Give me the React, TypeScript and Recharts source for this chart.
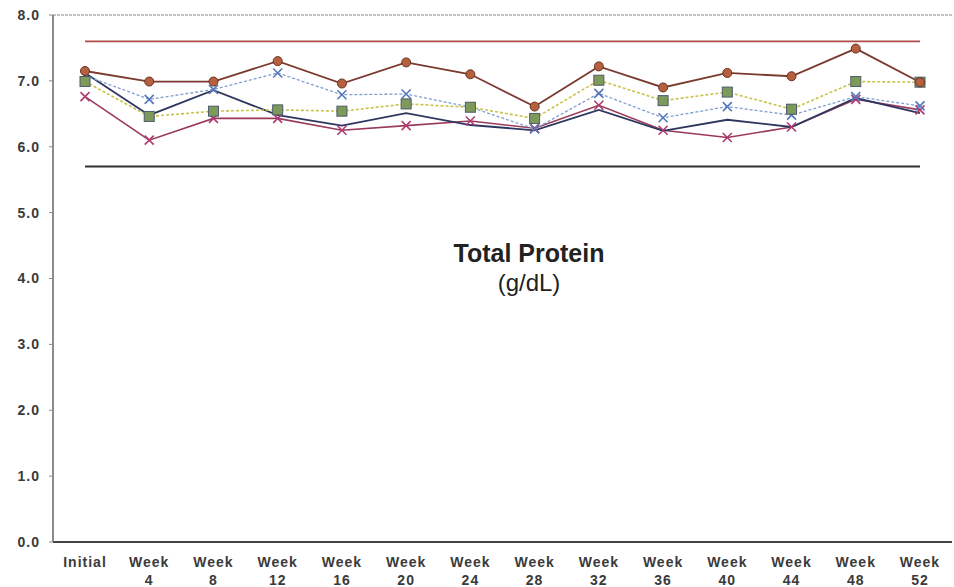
import React from 'react';
import { LineChart, Line, XAxis, YAxis, ReferenceLine } from 'recharts';

const categories = ['Initial', 'Week 4', 'Week 8', 'Week 12', 'Week 16', 'Week 20', 'Week 24', 'Week 28', 'Week 32', 'Week 36', 'Week 40', 'Week 44', 'Week 48', 'Week 52'];
const brownSeries = [7.15, 6.99, 6.99, 7.30, 6.96, 7.28, 7.10, 6.61, 7.22, 6.90, 7.12, 7.07, 7.49, 6.98];
const navySeries = [7.12, 6.48, 6.86, 6.48, 6.32, 6.51, 6.33, 6.25, 6.56, 6.24, 6.41, 6.30, 6.74, 6.51];
const greenSeries = [6.99, 6.46, 6.54, 6.56, 6.54, 6.65, 6.60, 6.43, 7.01, 6.70, 6.83, 6.57, 6.99, 6.98];
const blueSeries = [7.08, 6.72, 6.87, 7.12, 6.79, 6.80, 6.60, 6.27, 6.81, 6.44, 6.61, 6.48, 6.76, 6.62];
const pinkSeries = [6.76, 6.10, 6.43, 6.43, 6.25, 6.32, 6.39, 6.28, 6.63, 6.25, 6.14, 6.30, 6.72, 6.56];
const upperRef = 7.6;
const lowerRef = 5.7;
const yTicks = [0, 1, 2, 3, 4, 5, 6, 7, 8];

const data = categories.map((c, i) => ({
  cat: c,
  brown: brownSeries[i],
  navy: navySeries[i],
  green: greenSeries[i],
  blue: blueSeries[i],
  pink: pinkSeries[i],
  upper: upperRef,
  lower: lowerRef,
}));

const FONT = '"Liberation Sans", Arial, sans-serif';

const XTick = (props: any) => {
  const { x, y, payload } = props;
  const v: string = payload.value;
  const parts = v.split(' ');
  return (
    <g>
      <text x={x} y={y} dy={21} textAnchor="middle" fontFamily={FONT} fontSize={14} fontWeight={700} fill="#3a3a3a" letterSpacing={1}>
        {parts[0]}
      </text>
      {parts[1] && (
        <text x={x} y={y} dy={39} textAnchor="middle" fontFamily={FONT} fontSize={14} fontWeight={700} fill="#3a3a3a" letterSpacing={1}>
          {parts[1]}
        </text>
      )}
    </g>
  );
};

const XMark = (props: any) => {
  const { cx, cy, stroke } = props;
  if (cx == null || cy == null) return null;
  const s = 4.5;
  return (
    <path d={`M${cx - s},${cy - s}L${cx + s},${cy + s}M${cx - s},${cy + s}L${cx + s},${cy - s}`} stroke={stroke} strokeWidth={1.6} fill="none" />
  );
};

const SquareMark = (props: any) => {
  const { cx, cy } = props;
  if (cx == null || cy == null) return null;
  const s = 5;
  return <rect x={cx - s} y={cy - s} width={2 * s} height={2 * s} fill="#7d9a5a" stroke="#4f5a6a" strokeWidth={1} />;
};

export default function App() {
  return (
    <div style={{ position: 'absolute', left: 0, top: 0, width: 954, height: 587, background: '#fff' }}>
      <LineChart width={954} height={587} data={data} margin={{ top: 15, right: 2, left: 8, bottom: 0 }}>
        <XAxis
          dataKey="cat"
          height={45}
          tick={<XTick />}
          tickLine={false}
          tickSize={4}
          tickMargin={0}
          padding={{ left: 32, right: 32 }}
          axisLine={{ stroke: '#444', strokeWidth: 2 }}
          interval={0}
        />
        <YAxis
          yAxisId="left"
          domain={[0, 8]}
          ticks={yTicks}
          width={45}
          tickSize={4}
          tickMargin={9}
          tickFormatter={(v: number) => v.toFixed(1)}
          tick={{ fontFamily: FONT, fontSize: 14, fontWeight: 700, fill: '#3a3a3a', letterSpacing: 1 }}
          tickLine={{ stroke: '#888' }}
          axisLine={{ stroke: '#666', strokeWidth: 1.5 }}
        />
        <YAxis yAxisId="right" orientation="right" width={0} domain={[0, 8]} tick={false} tickLine={false} axisLine={{ stroke: '#ccc' }} />
        <ReferenceLine yAxisId="left" y={8} stroke="#888" strokeDasharray="3 1" strokeWidth={1} />
        <Line yAxisId="left" dataKey="upper" stroke="#b04a4a" strokeWidth={1.8} dot={false} isAnimationActive={false} />
        <Line yAxisId="left" dataKey="lower" stroke="#333" strokeWidth={1.8} dot={false} isAnimationActive={false} />
        <Line yAxisId="left" dataKey="pink" stroke="#9a3a5a" strokeWidth={1.6} dot={<XMark stroke="#b03a70" />} isAnimationActive={false} />
        <Line yAxisId="left" dataKey="navy" stroke="#2e3760" strokeWidth={1.8} dot={false} isAnimationActive={false} />
        <Line yAxisId="left" dataKey="blue" stroke="#7f9fd0" strokeWidth={1.3} strokeDasharray="3 2" dot={<XMark stroke="#5577bb" />} isAnimationActive={false} />
        <Line
          yAxisId="left"
          dataKey="green"
          stroke="#c8c24a"
          strokeWidth={1.6}
          strokeDasharray="3 2"
          dot={<SquareMark />}
          isAnimationActive={false}
        />
        <Line
          yAxisId="left"
          dataKey="brown"
          stroke="#7a3b2e"
          strokeWidth={1.8}
          dot={{ r: 4.5, fill: '#b5603f', stroke: '#6a3020', strokeWidth: 1 }}
          isAnimationActive={false}
        />
      </LineChart>
      <div style={{ position: 'absolute', left: 329, width: 400, top: 238, textAlign: 'center', fontFamily: FONT, fontWeight: 700, fontSize: 25, color: '#222', lineHeight: '30px' }}>
        Total Protein
      </div>
      <div style={{ position: 'absolute', left: 329, width: 400, top: 268, textAlign: 'center', fontFamily: FONT, fontWeight: 400, fontSize: 24, color: '#222', lineHeight: '30px' }}>
        (g/dL)
      </div>
    </div>
  );
}
